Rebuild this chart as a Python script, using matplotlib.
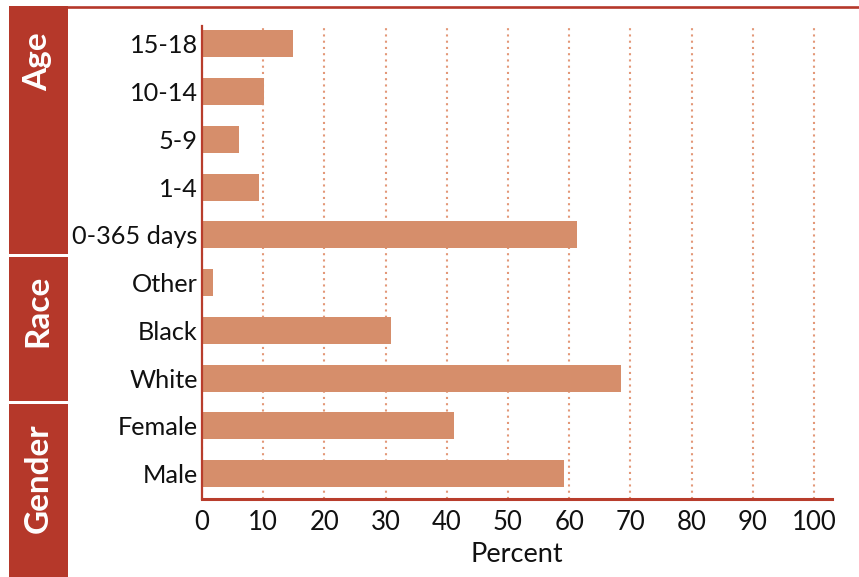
import matplotlib
matplotlib.use("Agg")
import matplotlib.pyplot as plt
from matplotlib.patches import Rectangle
from matplotlib.lines import Line2D

categories = ["15-18", "10-14", "5-9", "1-4", "0-365 days",
              "Other", "Black", "White", "Female", "Male"]
values = [14.8, 10.1, 6.1, 9.3, 61.3, 1.8, 30.9, 68.5, 41.2, 59.2]
xticks = [0, 10, 20, 30, 40, 50, 60, 70, 80, 90, 100]
groups = ["Age", "Race", "Gender"]
xlabel = "Percent"

RED = "#B5382A"
BAR = "#D68E6B"
GRID = "#E39878"
FONT = "Lato"

W, H = 859, 577
fig = plt.figure(figsize=(W / 100, H / 100), dpi=100)

x0, x1 = 202, 831.7
ytop, ybot = 26, 499
ax = fig.add_axes([x0 / W, (H - ybot) / H, (x1 - x0) / W, (ybot - ytop) / H])

n = len(categories)
ypos = list(range(n - 1, -1, -1))
ax.barh(ypos, values, height=0.565, color=BAR, zorder=3)
ax.set_xlim(0, 102.9)
ax.set_ylim(-0.53, n - 1 + 0.37)

ax.set_yticks(ypos)
ax.set_yticklabels(categories, fontsize=18.2, family=FONT, color="#111111")
ax.set_xticks(xticks)
ax.set_xticklabels([str(t) for t in xticks], fontsize=18.5, family=FONT, color="#111111")
ax.tick_params(axis="both", length=0)
ax.tick_params(axis="y", pad=3)
ax.tick_params(axis="x", pad=8)
ax.set_xlabel(xlabel, fontsize=19.5, family=FONT, color="#111111", labelpad=5)

for s in ["top", "right"]:
    ax.spines[s].set_visible(False)
ax.spines["left"].set_color("#B83D2C")
ax.spines["left"].set_linewidth(1.6)
ax.spines["bottom"].set_color("#B83D2C")
ax.spines["bottom"].set_linewidth(2.2)
ax.spines["left"].set_zorder(4)
ax.spines["bottom"].set_zorder(4)

ax.grid(axis="x", color=GRID, linewidth=1.5, linestyle=(0, (1, 2.0)), zorder=1)
ax.grid(axis="y", visible=False)
ax.set_axisbelow(True)

# top border line
fig.add_artist(Line2D([68 / W, 1.0], [1 - 7 / H, 1 - 7 / H], color=RED,
                      linewidth=1.9, transform=fig.transFigure))

# left group panel
bands = [(6, 254), (257, 401), (404, 577)]
text_tops = [32, 275, 423]
for (t, b), lab, tt in zip(bands, groups, text_tops):
    fig.add_artist(Rectangle((9 / W, 1 - b / H), (68 - 9) / W, (b - t) / H,
                             facecolor=RED, edgecolor="none",
                             transform=fig.transFigure))
    fig.text(38 / W, 1 - tt / H, lab, rotation=90, ha="center", va="top",
             color="white", fontsize=24, fontweight="bold", family=FONT)

fig.savefig("out.png", dpi=100)
